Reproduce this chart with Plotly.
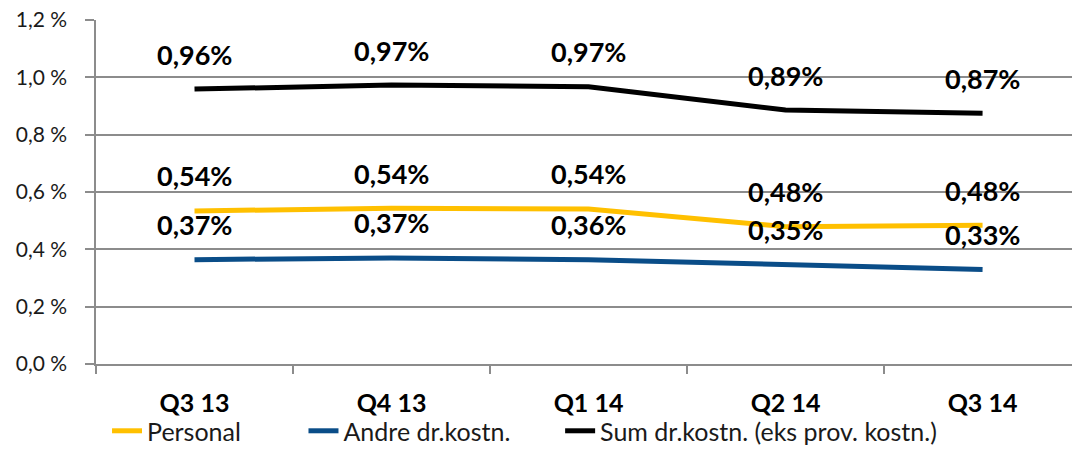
import plotly.graph_objects as go

quarters = ['Q3 13', 'Q4 13', 'Q1 14', 'Q2 14', 'Q3 14']

personal = [0.534, 0.543, 0.541, 0.479, 0.484]
andre = [0.364, 0.370, 0.364, 0.347, 0.330]
sum_drk = [0.959, 0.973, 0.967, 0.886, 0.875]

personal_lbl = ['0,54%', '0,54%', '0,54%', '0,48%', '0,48%']
andre_lbl = ['0,37%', '0,37%', '0,36%', '0,35%', '0,33%']
sum_lbl = ['0,96%', '0,97%', '0,97%', '0,89%', '0,87%']

ytick_vals = [0.0, 0.2, 0.4, 0.6, 0.8, 1.0, 1.2]
ytick_text = ['0,0 %', '0,2 %', '0,4 %', '0,6 %', '0,8 %', '1,0 %', '1,2 %']

FONT = 'Lato'
GRID = '#8c8c8c'
NB = '\u00a0'

fig = go.Figure()

series = [
    ('Personal' + NB * 9, personal, personal_lbl, '#FFC000'),
    ('Andre dr.kostn.' + NB * 7, andre, andre_lbl, '#0A4D88'),
    ('Sum dr.kostn. (eks prov. kostn.)', sum_drk, sum_lbl, '#000000'),
]

for name, vals, lbls, col in series:
    fig.add_trace(go.Scatter(x=quarters, y=vals, mode='lines', name=name,
                             line=dict(color=col, width=5)))
    for q, v, t in zip(quarters, vals, lbls):
        fig.add_annotation(x=q, y=v, text='<b>' + t + '</b>', showarrow=False,
                           yshift=35, font=dict(family=FONT, size=27, color='#000000'))

fig.update_layout(
    width=1072, height=449,
    margin=dict(l=96, r=0, t=20, b=85),
    paper_bgcolor='white', plot_bgcolor='white',
    font=dict(family=FONT, color='#1a1a1a'),
    showlegend=True,
    legend=dict(orientation='h', x=0.0113, xanchor='left',
                yref='container', y=0.04, yanchor='middle',
                bgcolor='rgba(0,0,0,0)',
                font=dict(family=FONT, size=25, color='#1a1a1a'),
                itemsizing='constant', traceorder='normal'),
)

fig.update_xaxes(
    type='category', range=[-0.5, 4.454], automargin=False,
    showline=True, linecolor=GRID, linewidth=1.5,
    ticks='outside', tickson='boundaries', ticklen=8, tickcolor=GRID, tickwidth=1.5,
    showgrid=False,
    tickfont=dict(family=FONT, size=25, color='#000000'),
    tickprefix='<b>', ticksuffix='</b>',
    ticklabelstandoff=16,
)

fig.update_yaxes(
    range=[0, 1.2], tickvals=ytick_vals, ticktext=ytick_text, automargin=False,
    showline=True, linecolor=GRID, linewidth=1.5,
    showgrid=True, gridcolor=GRID, gridwidth=1.5,
    ticks='outside', ticklen=9, tickcolor=GRID, tickwidth=1.5,
    tickfont=dict(family=FONT, size=21, color='#1a1a1a'),
    ticklabelstandoff=14,
    zeroline=False,
)

fig.write_html('out.html', config={'displayModeBar': False},
               post_script="document.documentElement.style.margin='0';"
                           "document.documentElement.style.overflow='hidden';"
                           "document.body.style.margin='0';"
                           "document.body.style.overflow='hidden';")
